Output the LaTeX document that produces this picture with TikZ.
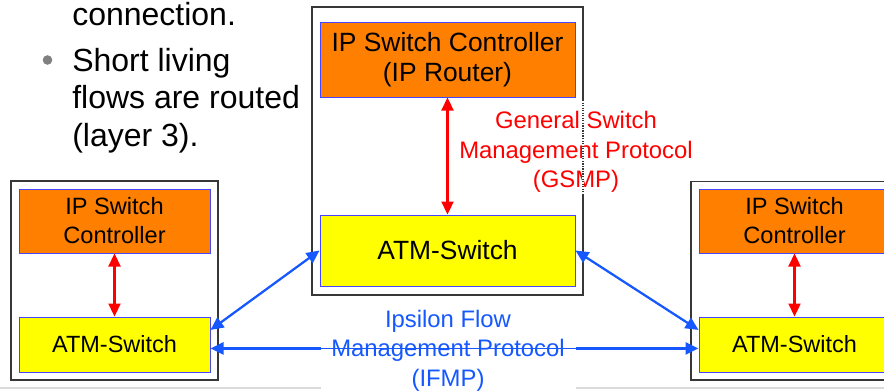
\documentclass[tikz,border=0pt]{standalone}
\usepackage{fontspec}
\setmainfont{Liberation Sans}
\usetikzlibrary{arrows.meta,calc}

\definecolor{boxorange}{RGB}{255,128,0}
\definecolor{boxyellow}{RGB}{255,255,0}
\definecolor{flowblue}{RGB}{22,88,255}
\definecolor{edgeblue}{RGB}{70,70,255}
\definecolor{framegray}{RGB}{55,55,55}
\definecolor{rulegray}{RGB}{218,218,218}
\definecolor{bulletgray}{RGB}{128,128,128}
\definecolor{gsmpred}{RGB}{255,0,0}

\begin{document}
\begin{tikzpicture}[x=0.75pt,y=-0.75pt,
  frame/.style={draw=framegray,line width=1.1pt,fill=white},
  unit/.style={draw=edgeblue,line width=0.75pt,inner sep=0pt,align=center},
  ctrlbig/.style={unit,fill=boxorange,minimum width=191.25pt,minimum height=56.25pt,
    font=\fontsize{19.8}{22}\selectfont},
  atmbig/.style={unit,fill=boxyellow,minimum width=191.25pt,minimum height=53.25pt,
    font=\fontsize{19.8}{22}\selectfont},
  ctrlside/.style={unit,fill=boxorange,minimum width=143.25pt,minimum height=48pt,
    font=\fontsize{17.7}{21.75}\selectfont},
  atmside/.style={unit,fill=boxyellow,minimum width=143.25pt,minimum height=41.25pt,
    font=\fontsize{17.6}{21}\selectfont},
  gsmparrow/.style={draw=gsmpred,line width=1.7pt,{Triangle[length=9.75pt,width=9pt]}-{Triangle[length=9.75pt,width=9pt]}},
  flowarrow/.style={draw=flowblue,line width=1.7pt,{Triangle[length=9.75pt,width=9pt]}-{Triangle[length=9.75pt,width=9pt]}},
  bullettext/.style={anchor=base west,inner sep=0pt,font=\fontsize{24}{28}\selectfont},
  protolabel/.style={align=center,inner sep=0pt,font=\fontsize{17.9}{22}\selectfont}
]
\useasboundingbox (0,0) rectangle (884,390);
\clip (0,0) rectangle (884,390);

% bullet list on the upper left
\node[bullettext] (l1) at (72,25) {connection.};
\node[bullettext] (l2) at (72,71) {Short living};
\node[bullettext] (l3) at (72,108.5) {flows are routed};
\node[bullettext] (l4) at (72,146) {(layer 3).};
\fill[bulletgray] (47.5,60) circle (4.8);

% footer rule
\draw[rulegray,line width=1.1pt] (0,388) -- (884,388);

% switch frames
\draw[frame] (312,7) rectangle (583,295);
\draw[frame] (11,181) rectangle (218,380);
\draw[frame] (691,181.5) rectangle (898,380);

% central IP switch
\node[ctrlbig] (cctl) at (447.5,59.5) {IP Switch Controller\\(IP Router)};
\node[atmbig] (catm) at (447.5,250.5) {ATM-Switch};

% left IP switch
\node[ctrlside] (lctl) at (114.5,221) {IP Switch\\Controller};
\node[atmside] (latm) at (114.5,344.5) {ATM-Switch};

% right IP switch
\node[ctrlside] (rctl) at (794.5,221) {IP Switch\\Controller};
\node[atmside] (ratm) at (794.5,344.5) {ATM-Switch};

% GSMP between controller and switch fabric
\draw[gsmparrow] (cctl.south) -- (catm.north);
\draw[gsmparrow] (lctl.south) -- (latm.north);
\draw[gsmparrow] (rctl.south) -- (ratm.north);

% IFMP links between the ATM switches
\coordinate (lup) at ($(latm.north east)!0.24!(latm.south east)$);
\coordinate (rup) at ($(ratm.north west)!0.24!(ratm.south west)$);
\coordinate (lmid) at ($(latm.north east)!0.57!(latm.south east)$);
\coordinate (rmid) at ($(ratm.north west)!0.57!(ratm.south west)$);
\draw[flowarrow] (lup) -- (catm.west);
\draw[flowarrow] (catm.east) -- (rup);
\draw[flowarrow] (lmid) -- (rmid);

\node[protolabel,fill=white,minimum width=191.25pt,minimum height=62pt,text=flowblue]
  (ifmp) at (448,350.6) {Ipsilon Flow\\Management Protocol\\(IFMP)};
\draw[flowblue,line width=0.7pt] (ifmp.west |- lmid) -- (ifmp.east |- lmid);

\node[protolabel,text=gsmpred] (gsmp) at (576,152) {General Switch\\Management Protocol\\(GSMP)};
\coordinate (gtop) at (583,100);
\coordinate (gbot) at (583,195);
\draw[white,line width=2pt] (gtop) -- (gbot);
\draw[framegray,line width=0.9pt,densely dotted] (gtop) -- (gbot);
\end{tikzpicture}
\end{document}
